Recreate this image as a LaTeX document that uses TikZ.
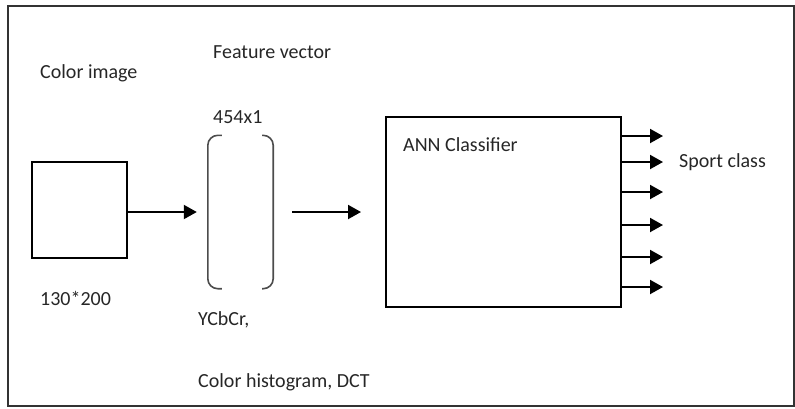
\documentclass[tikz,border=0pt]{standalone}
\usepackage{fontspec}
\setmainfont{Carlito}
\usetikzlibrary{arrows.meta,positioning}

\tikzset{
  box/.style={rectangle, draw, line width=2pt, inner sep=0pt},
  label/.style={anchor=west, inner sep=0pt, font=\fontsize{20}{24}\selectfont, text=black!85},
  arrowline/.style={line width=2pt, -{Triangle[length=13pt,width=14pt]}},
  bracketline/.style={line width=1.6pt, draw=black!70, rounded corners=10pt}
}

\begin{document}
\begin{tikzpicture}[x=1pt, y=-1pt]
    \useasboundingbox (0,0) rectangle (795,408);
    % Frame
    \draw[line width=2pt, draw=black!80] (8,6) rectangle (794,406);
    % Input image
    \node[box, minimum width=95pt, minimum height=96pt] (img) at (79.5,210) {};
    \node[label] (imgname) at (40,73) {Color image};
    \node[label] (imgsize) at (40,298) {130*200};
    % Feature vector
    \node[rectangle, minimum width=65pt, minimum height=153pt, inner sep=0pt] (vec) at (240.5,212) {};
    \draw[bracketline] ([xshift=14pt]vec.north west) -- (vec.north west) -- (vec.south west) -- ([xshift=14pt]vec.south west);
    \draw[bracketline] ([xshift=-11pt]vec.north east) -- (vec.north east) -- (vec.south east) -- ([xshift=-11pt]vec.south east);
    \node[label] (vecname) at (213,52) {Feature vector};
    \node[label] (vecsize) at (213,117) {454x1};
    \node[label] (vecspace) at (198,320) {YCbCr,};
    \node[label] (vecfeat) at (198,382) {Color histogram, DCT};
    % Classifier
    \node[box, minimum width=235pt, minimum height=190pt] (ann) at (503.5,212) {};
    \node[label] (annname) at (403,145) {ANN Classifier};
    \node[label] (classname) at (679,162) {Sport class};
    % Arrows
    \draw[arrowline] (img.east |- vec.west) -- ([xshift=-11pt]vec.west);
    \draw[arrowline, shorten <=19pt, shorten >=24pt] (vec.east) -- (ann.west);
    \foreach \y [count=\i] in {136,162,192,225,257,287} {
        \coordinate (out\i) at (663,\y);
        \draw[arrowline] (ann.east |- out\i) -- (out\i);
    }
\end{tikzpicture}
\end{document}
